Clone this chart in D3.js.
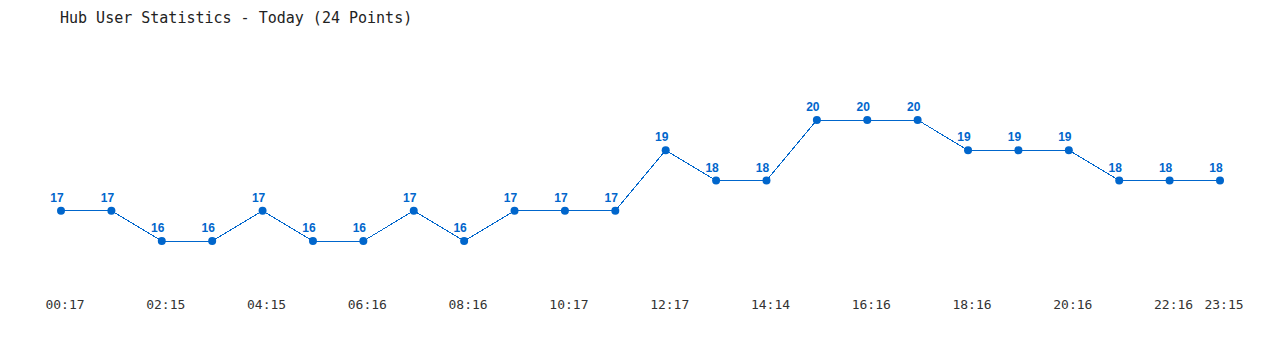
<!DOCTYPE html>
<html>
<head>
<meta charset="utf-8">
<script src="https://cdn.jsdelivr.net/npm/d3@7"></script>
<style>
  body { margin: 0; background: #fff; }
  svg { display: block; }
</style>
</head>
<body>
<svg width="1280" height="350"></svg>
<script>
// hourly samples, today
var times = ["00:17", "", "02:15", "", "04:15", "", "06:16", "", "08:16", "", "10:17", "",
             "12:17", "", "14:14", "", "16:16", "", "18:16", "", "20:16", "", "22:16", "23:15"];
var users = [17, 17, 16, 16, 17, 16, 16, 17, 16, 17, 17, 17,
             19, 18, 18, 20, 20, 20, 19, 19, 19, 18, 18, 18];
var title = "Hub User Statistics - Today (24 Points)";

var blue = "#0066cc";
var svg = d3.select("svg");

svg.append("text")
    .attr("x", 60)
    .attr("y", 23)
    .attr("font-family", "DejaVu Sans Mono")
    .attr("font-size", "15px")
    .attr("fill", "#222")
    .text(title);

var idx = d3.range(users.length);
var x = d3.scalePoint().domain(idx).range([61, 1220]);
var y = d3.scaleLinear().domain([16, 20]).range([241, 120]);

// x labels, only where there is a time
svg.append("g")
    .selectAll("text")
    .data(idx.filter(function(i) { return times[i] !== ""; }))
    .enter().append("text")
    .attr("x", function(i) { return x(i) + 4; })
    .attr("y", 309)
    .attr("text-anchor", "middle")
    .attr("font-family", "DejaVu Sans Mono")
    .attr("font-size", "13px")
    .attr("fill", "#333")
    .text(function(i) { return times[i]; });

var line = d3.line()
    .x(function(d, i) { return x(i); })
    .y(function(d) { return y(d); });

svg.append("path")
    .datum(users)
    .attr("d", line)
    .attr("fill", "none")
    .attr("stroke", blue)
    .attr("stroke-width", 1)
    .attr("shape-rendering", "crispEdges");

svg.append("g")
    .selectAll("circle")
    .data(users)
    .enter().append("circle")
    .attr("cx", function(d, i) { return x(i); })
    .attr("cy", function(d) { return y(d); })
    .attr("r", 4)
    .attr("fill", blue);

svg.append("g")
    .selectAll("text")
    .data(users)
    .enter().append("text")
    .attr("x", function(d, i) { return x(i) - 4; })
    .attr("y", function(d) { return y(d) - 9; })
    .attr("text-anchor", "middle")
    .attr("font-family", "Liberation Sans")
    .attr("font-weight", "bold")
    .attr("font-size", "12px")
    .attr("fill", blue)
    .text(function(d) { return d; });
</script>
</body>
</html>
